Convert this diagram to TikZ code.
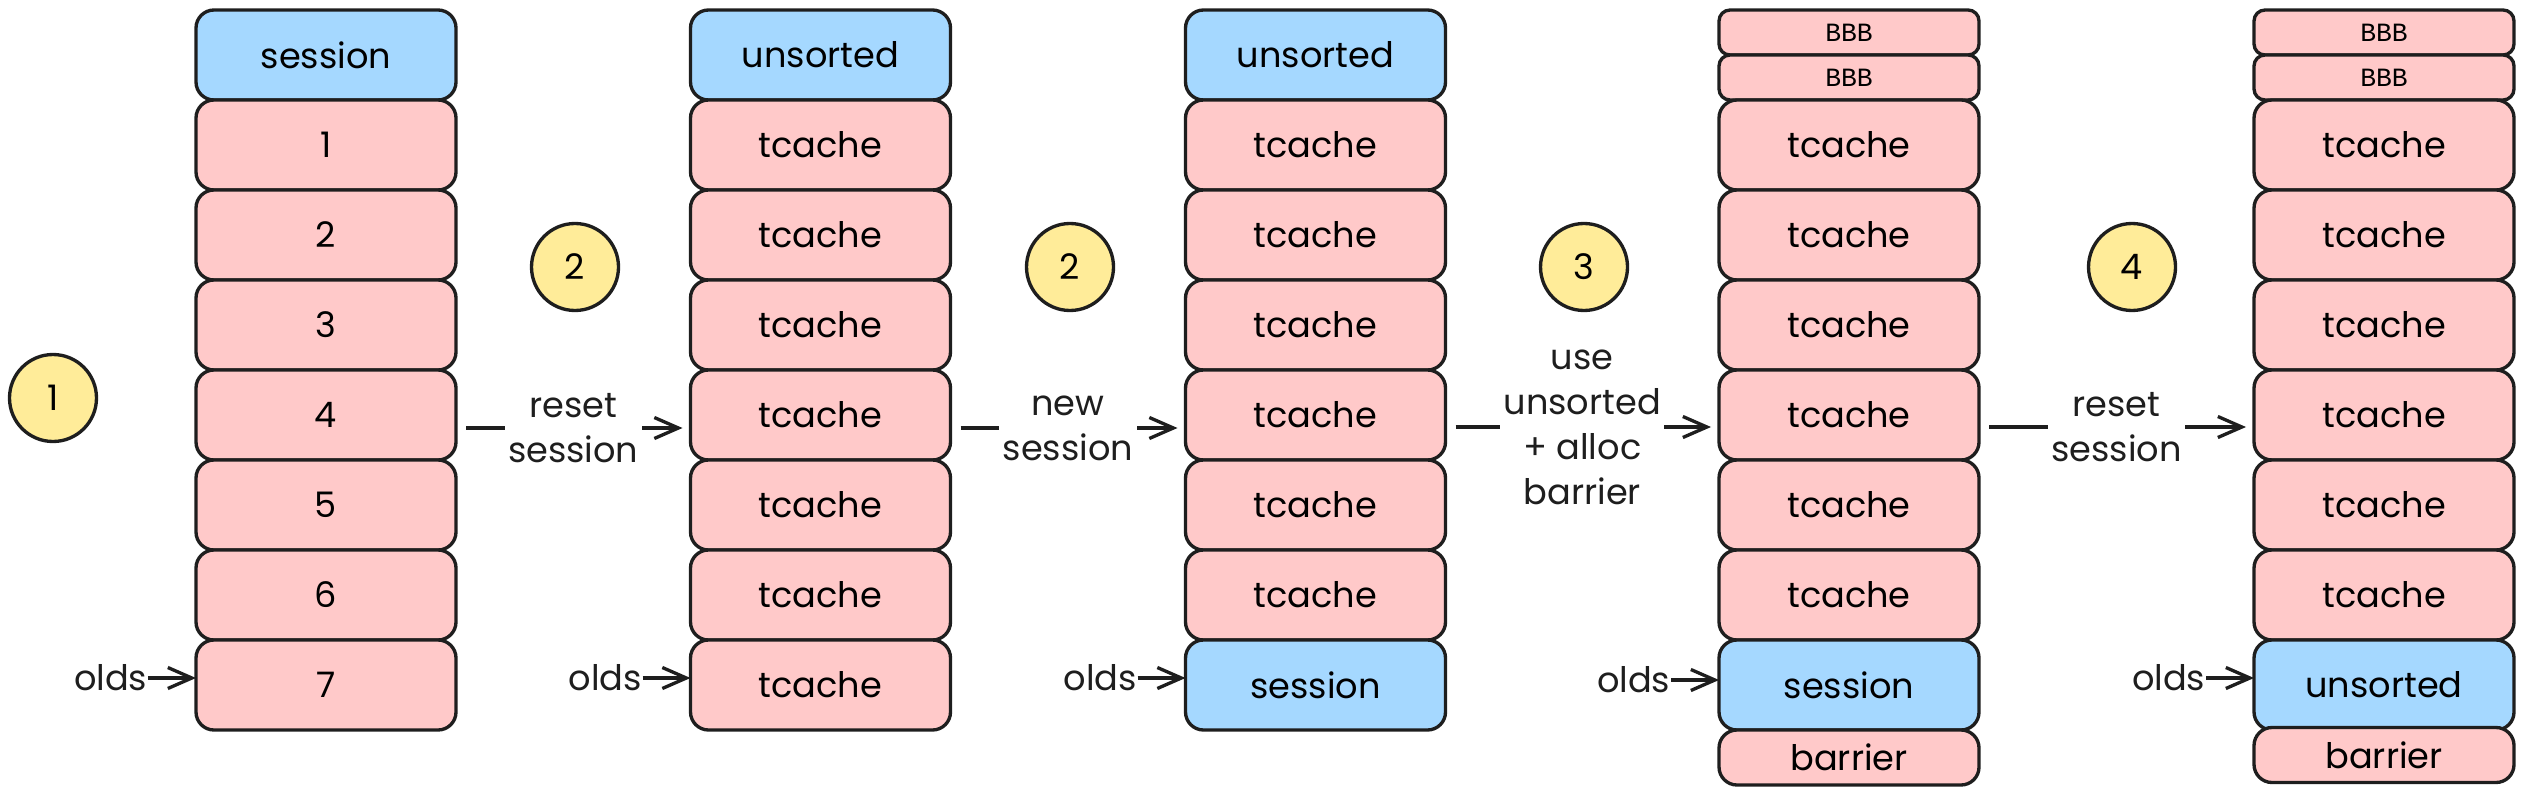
\documentclass[tikz,border=0pt]{standalone}
\usepackage{fontspec}
\usetikzlibrary{arrows.meta}
\newfontfamily\handfont{Poppins}
\newfontfamily\bbbfont{Liberation Mono}
\definecolor{ink}{HTML}{1E1E1E}
\definecolor{cellpink}{HTML}{FFC9C9}
\definecolor{cellblue}{HTML}{A5D8FF}
\definecolor{markyellow}{HTML}{FFEC99}
\tikzset{
  cell/.style={draw=ink, line width=0.95pt, rounded corners=0.18cm, minimum width=2.6cm,
    minimum height=0.9cm, inner sep=0pt, outer sep=0pt, font=\handfont\fontsize{10pt}{12pt}\selectfont},
  pinkcell/.style={cell, fill=cellpink},
  bluecell/.style={cell, fill=cellblue},
  thincell/.style={pinkcell, minimum height=0.45cm, rounded corners=0.11cm,
    font=\bbbfont\fontsize{7.5pt}{9pt}\selectfont},
  barriercell/.style={pinkcell, minimum height=0.55cm},
  stepmark/.style={circle, draw=ink, fill=markyellow, line width=0.95pt, minimum size=0.87cm,
    inner sep=0pt, font=\handfont\fontsize{10pt}{12pt}\selectfont},
  flow/.style={draw=ink, line width=0.95pt, -{Straight Barb[length=2.4mm,width=2.1mm]}},
  gap/.style={shorten <=1mm, shorten >=0.8mm},
  flowlabel/.style={fill=white, align=center, inner sep=1pt, text=ink,
    font=\handfont\fontsize{10pt}{12.8pt}\selectfont},
  olds/.style={anchor=east, inner sep=0pt, text=ink, font=\handfont\fontsize{10pt}{12pt}\selectfont}
}
\begin{document}
\begin{tikzpicture}
\useasboundingbox (0,0) rectangle (25.24,-7.97);

% first stack
\node [bluecell] at (3.26,-0.55) (A0) {session};
\node [pinkcell] at (3.26,-1.45) (A1) {1};
\node [pinkcell] at (3.26,-2.35) (A2) {2};
\node [pinkcell] at (3.26,-3.25) (A3) {3};
\node [pinkcell] at (3.26,-4.15) (A4) {4};
\node [pinkcell] at (3.26,-5.05) (A5) {5};
\node [pinkcell] at (3.26,-5.95) (A6) {6};
\node [pinkcell] at (3.26,-6.85) (A7) {7};

% second stack
\node [bluecell] at (8.205,-0.55) (B0) {unsorted};
\node [pinkcell] at (8.205,-1.45) (B1) {tcache};
\node [pinkcell] at (8.205,-2.35) (B2) {tcache};
\node [pinkcell] at (8.205,-3.25) (B3) {tcache};
\node [pinkcell] at (8.205,-4.15) (B4) {tcache};
\node [pinkcell] at (8.205,-5.05) (B5) {tcache};
\node [pinkcell] at (8.205,-5.95) (B6) {tcache};
\node [pinkcell] at (8.205,-6.85) (B7) {tcache};

% third stack
\node [bluecell] at (13.155,-0.55) (C0) {unsorted};
\node [pinkcell] at (13.155,-1.45) (C1) {tcache};
\node [pinkcell] at (13.155,-2.35) (C2) {tcache};
\node [pinkcell] at (13.155,-3.25) (C3) {tcache};
\node [pinkcell] at (13.155,-4.15) (C4) {tcache};
\node [pinkcell] at (13.155,-5.05) (C5) {tcache};
\node [pinkcell] at (13.155,-5.95) (C6) {tcache};
\node [bluecell] at (13.155,-6.85) (C7) {session};

% fourth stack
\node [thincell] at (18.49,-0.325) (Da) {BBB};
\node [thincell] at (18.49,-0.775) (Db) {BBB};
\node [pinkcell] at (18.49,-1.45) (D1) {tcache};
\node [pinkcell] at (18.49,-2.35) (D2) {tcache};
\node [pinkcell] at (18.49,-3.25) (D3) {tcache};
\node [pinkcell] at (18.49,-4.15) (D4) {tcache};
\node [pinkcell] at (18.49,-5.05) (D5) {tcache};
\node [pinkcell] at (18.49,-5.95) (D6) {tcache};
\node [bluecell] at (18.49,-6.85) (D7) {session};
\node [barriercell] at (18.49,-7.575) (D8) {barrier};

% fifth stack
\node [thincell] at (23.84,-0.325) (Ea) {BBB};
\node [thincell] at (23.84,-0.775) (Eb) {BBB};
\node [pinkcell] at (23.84,-1.45) (E1) {tcache};
\node [pinkcell] at (23.84,-2.35) (E2) {tcache};
\node [pinkcell] at (23.84,-3.25) (E3) {tcache};
\node [pinkcell] at (23.84,-4.15) (E4) {tcache};
\node [pinkcell] at (23.84,-5.05) (E5) {tcache};
\node [pinkcell] at (23.84,-5.95) (E6) {tcache};
\node [bluecell] at (23.84,-6.85) (E7) {unsorted};
\node [barriercell] at (23.84,-7.55) (E8) {barrier};

% step numbers
\node [stepmark] at (0.53,-3.98) (N1) {1};
\node [stepmark] at (5.75,-2.67) (N2) {2};
\node [stepmark] at (10.70,-2.67) (N3) {2};
\node [stepmark] at (15.84,-2.67) (N4) {3};
\node [stepmark] at (21.32,-2.67) (N5) {4};

% transitions
\draw [flow,gap] ([yshift=-1.3mm]A4.east) -- ([yshift=-1.3mm]B4.west) node [flowlabel,midway] {reset\\session};
\draw [flow,gap] ([yshift=-1.3mm]B4.east) -- ([yshift=-1.3mm]C4.west) node [flowlabel,midway] {new\\session};
\draw [flow,gap] ([yshift=-1.2mm]C4.east) -- ([yshift=-1.2mm]D4.west) node [flowlabel,midway] {use\\unsorted\\+ alloc\\barrier};
\draw [flow,gap] ([yshift=-1.2mm]D4.east) -- ([yshift=-1.2mm]E4.west) node [flowlabel,midway] {reset\\session};

% olds pointers
\node [olds] at ([xshift=-4.8mm,yshift=0.7mm]A7.west) (oA) {olds};
\node [olds] at ([xshift=-4.8mm,yshift=0.7mm]B7.west) (oB) {olds};
\node [olds] at ([xshift=-4.8mm,yshift=0.7mm]C7.west) (oC) {olds};
\node [olds] at ([xshift=-4.8mm,yshift=0.5mm]D7.west) (oD) {olds};
\node [olds] at ([xshift=-4.8mm,yshift=0.7mm]E7.west) (oE) {olds};
\draw [flow] (oA.east) -- (oA.east -| A7.west);
\draw [flow] (oB.east) -- (oB.east -| B7.west);
\draw [flow] (oC.east) -- (oC.east -| C7.west);
\draw [flow] (oD.east) -- (oD.east -| D7.west);
\draw [flow] (oE.east) -- (oE.east -| E7.west);
\end{tikzpicture}
\end{document}
